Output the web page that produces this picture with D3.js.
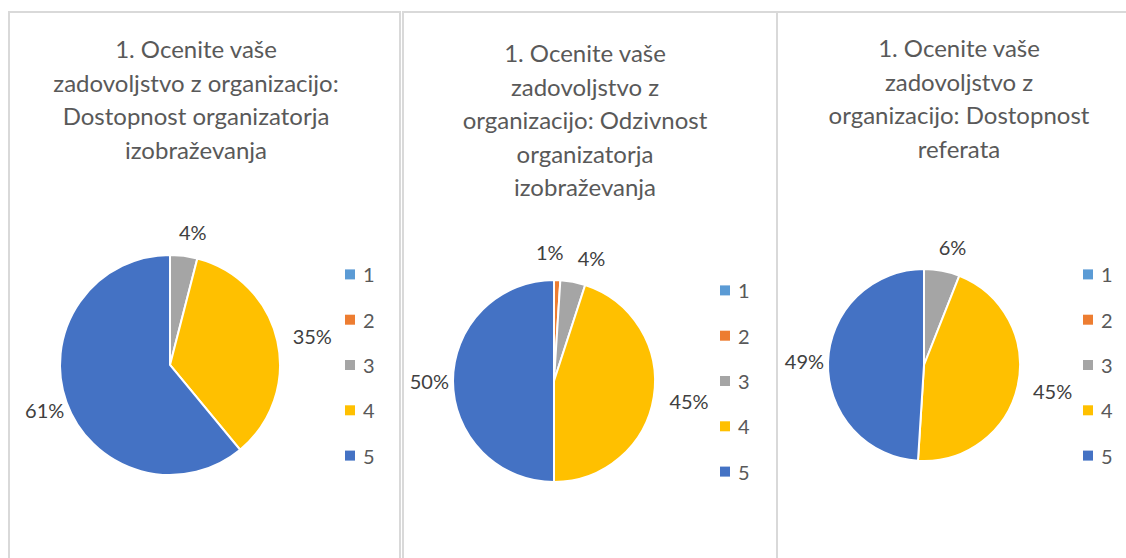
<!DOCTYPE html>
<html>
<head>
<meta charset="utf-8">
<script src="https://cdn.jsdelivr.net/npm/d3@7"></script>
<style>
    body { margin: 0; background: #fff; }
    svg { display: block; font-family: Lato, "Open Sans", sans-serif; }
</style>
</head>
<body>
<svg id="chart" width="1126" height="558"></svg>
<script>
// Rating categories (legend) and their Office colours
const categories = ['1', '2', '3', '4', '5'];
const colors = ['#5B9BD5', '#ED7D31', '#A5A5A5', '#FFC000', '#4472C4'];

// Chart titles, as wrapped in the original
const titleAccess = ['1. Ocenite vaše', 'zadovoljstvo z organizacijo:', 'Dostopnost organizatorja', 'izobraževanja'];
const titleResponse = ['1. Ocenite vaše', 'zadovoljstvo z', 'organizacijo: Odzivnost', 'organizatorja', 'izobraževanja'];
const titlePapers = ['1. Ocenite vaše', 'zadovoljstvo z', 'organizacijo: Dostopnost', 'referata'];

// Share of answers per rating (%)
const valuesAccess = [0, 0, 4, 35, 61];
const valuesResponse = [0, 1, 4, 45, 50];
const valuesPapers = [0, 0, 6, 45, 49];

// Panel layout
const panels = [
    { values: valuesAccess, title: titleAccess, x0: 9, x1: 400, cx: 170, cy: 365, r: 110, legendX: 345, titleX: 196, titleY: 58 },
    { values: valuesResponse, title: titleResponse, x0: 403, x1: 777, cx: 554, cy: 381, r: 101, legendX: 720, titleX: 585, titleY: 62 },
    { values: valuesPapers, title: titlePapers, x0: 777, x1: 1140, cx: 924, cy: 365, r: 96, legendX: 1083, titleX: 959, titleY: 57 }
];

const svg = d3.select('#chart');
const color = d3.scaleOrdinal().domain(categories).range(colors);
const pie = d3.pie().sort(null).value(d => d.value);

panels.forEach(p => {
    // Panel frame
    svg.append('rect')
        .attr('x', p.x0)
        .attr('y', 12)
        .attr('width', p.x1 - p.x0)
        .attr('height', 600)
        .attr('fill', 'none')
        .attr('stroke', '#d9d9d9')
        .attr('stroke-width', 2);

    // Title
    const title = svg.append('text')
        .attr('text-anchor', 'middle')
        .attr('fill', '#595959')
        .style('font-size', '24px');
    p.title.forEach((line, i) => {
        title.append('tspan')
            .attr('x', p.titleX)
            .attr('y', p.titleY + i * 33.5)
            .text(line);
    });

    // Pie
    const g = svg.append('g').attr('transform', `translate(${p.cx},${p.cy})`);
    const arcs = pie(categories.map((c, i) => ({ cat: c, value: p.values[i] })));
    const arc = d3.arc().innerRadius(0).outerRadius(p.r);

    g.selectAll('path')
        .data(arcs)
        .join('path')
        .attr('d', arc)
        .attr('fill', d => color(d.data.cat))
        .attr('stroke', '#fff')
        .attr('stroke-width', 2);

    // Data labels outside the pie
    const total = d3.sum(p.values);
    const shown = arcs.filter(d => d.value > 0);
    const labels = g.selectAll('text.lbl')
        .data(shown)
        .join('text')
        .attr('class', 'lbl')
        .attr('text-anchor', 'middle')
        .attr('dominant-baseline', 'central')
        .attr('fill', '#404040')
        .style('font-size', '20px')
        .text(d => Math.round(d.value / total * 100) + '%');

    labels.each(function (d) {
        const w = this.getComputedTextLength();
        const a = (d.startAngle + d.endAngle) / 2;
        const rr = p.r + 10;
        d.w = w;
        d.lx = Math.sin(a) * (rr + w / 2) + 6;
        d.ly = -Math.cos(a) * (rr + 14);
    });

    // Push apart labels that collide (small neighbouring slices)
    const sorted = shown.slice().sort((a, b) => a.lx - b.lx);
    for (let k = 0; k < 5; k++) {
        for (let i = 0; i < sorted.length; i++) {
            for (let j = i + 1; j < sorted.length; j++) {
                const a = sorted[i], b = sorted[j];
                const need = (a.w + b.w) / 2 + 14;
                const dx = b.lx - a.lx;
                if (Math.abs(a.ly - b.ly) < 20 && dx < need) {
                    const shift = (need - dx) / 2;
                    a.lx -= shift + 3;
                    a.ly -= 4;
                    b.lx += shift - 3;
                }
            }
        }
    }

    labels.attr('x', d => d.lx).attr('y', d => d.ly);

    // Legend
    const legend = svg.append('g');
    const items = legend.selectAll('g')
        .data(categories)
        .join('g')
        .attr('transform', (d, i) => `translate(${p.legendX},${p.cy + (i - 2) * 45.3})`);

    items.append('rect')
        .attr('x', 0)
        .attr('y', -5)
        .attr('width', 10)
        .attr('height', 10)
        .attr('fill', d => color(d));

    items.append('text')
        .attr('x', 18)
        .attr('y', 0)
        .attr('dominant-baseline', 'central')
        .attr('fill', '#595959')
        .style('font-size', '20px')
        .text(d => d);
});
</script>
</body>
</html>
